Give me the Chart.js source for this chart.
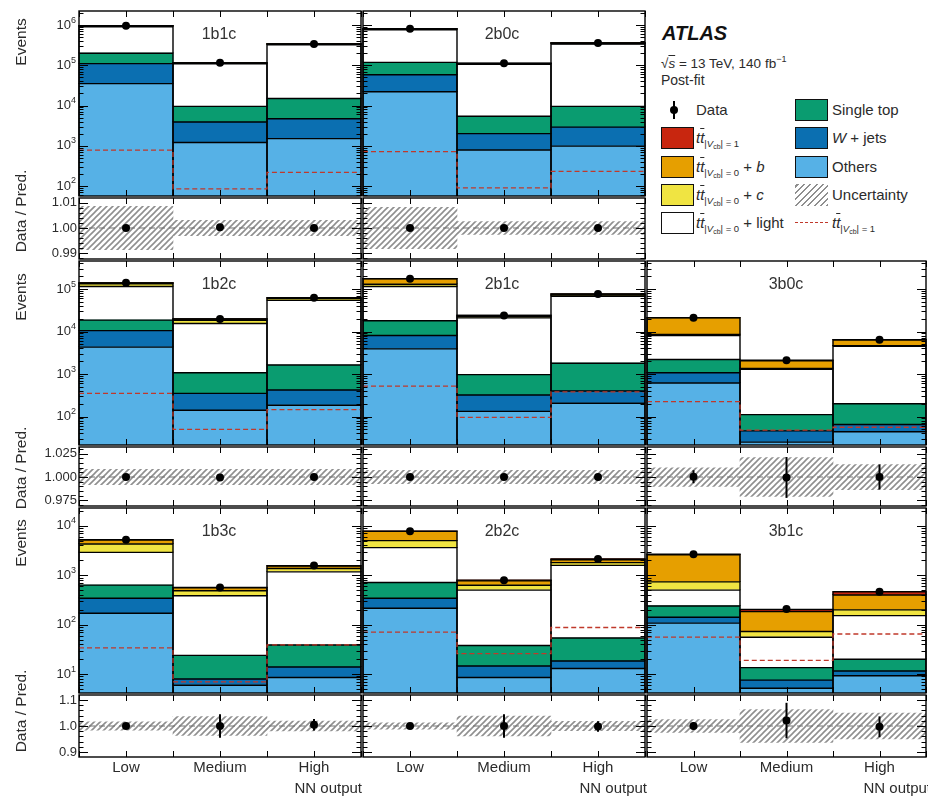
<!DOCTYPE html>
<html>
<head>
<meta charset="utf-8">
<script src="https://cdn.jsdelivr.net/npm/chart.js@4.4.1/dist/chart.umd.min.js"></script>
<style>
  body { margin: 0; width: 928px; height: 797px; overflow: hidden; position: relative; background: #fff;
         font-family: "Liberation Sans", Arial, sans-serif; color: #2b2b2b; }
  canvas { position: absolute; }
  .txt { position: absolute; white-space: nowrap; z-index: 2; line-height: 1; }
  .box { position: absolute; width: 33px; height: 22px; box-sizing: border-box; border: 1.5px solid #111; z-index: 2; }
  .ov { text-decoration: overline; }
  .sb { font-size: 9.5px; vertical-align: -4px; }
  .sb2 { font-size: 7px; vertical-align: -2px; }
</style>
</head>
<body>

<!-- legend -->
<div class="txt" style="left:662px;top:22px;font:italic bold 20px 'Liberation Sans',Arial,sans-serif;color:#111">ATLAS</div>
<div class="txt" style="left:661px;top:55px;font-size:13.5px">√<span class="ov"><i>s</i></span> = 13 TeV, 140 fb<span style="font-size:9px;vertical-align:6px">−1</span></div>
<div class="txt" style="left:661px;top:73px;font-size:14px">Post-fit</div>
<div id="legend"></div>

<script>
// -----------------------------
// Data
// -----------------------------
const regions = ['1b1c', '2b0c', '', '1b2c', '2b1c', '3b0c', '1b3c', '2b2c', '3b1c'];
const bins = ['Low', 'Medium', 'High'];

// post-fit yields per region (index 2 is the legend slot), bins Low / Medium / High
const others    = [[3.5e4, 1.2e3, 1.5e3], [2.2e4, 780, 980], null, [4.3e3, 140, 185], [3.9e3, 132, 206], [615, 25, 44], [171, 6, 8.6], [215, 8.6, 13], [108, 5.2, 9.3]];
const wjets     = [[7.5e4, 2.7e3, 3.2e3], [3.6e4, 1.22e3, 1.92e3], null, [6.2e3, 210, 235], [4.2e3, 188, 194], [455, 21, 21], [171, 2, 5.4], [127, 6, 5.5], [34, 2.4, 2.3]];
const singleTop = [[9.0e4, 5.6e3, 1.03e4], [6.0e4, 3.4e3, 6.6e3], null, [8.1e3, 720, 1.21e3], [9.9e3, 650, 1.4e3], [1.13e3, 65, 135], [290, 16, 25], [373, 23.4, 35.5], [98, 6, 8.4]];
const ttLight   = [[7.09e5, 1.0e5, 3.09e5], [6.41e5, 1.005e5, 3.3e5], null, [9.64e4, 1.44e4, 5.24e4], [9.7e4, 2.0e4, 6.6e4], [5.9e3, 1.19e3, 4.3e3], [2.27e3, 362, 1.13e3], [2.9e3, 462, 1.53e3], [260, 42.4, 133]];
const ttC       = [[3.5e4, 4e3, 1.2e4], [2.5e4, 3e3, 1e4], null, [1.8e4, 3e3, 6e3], [1.5e4, 1.5e3, 4e3], [400, 60, 150], [1.4e3, 100, 200], [1.4e3, 130, 220], [235, 17, 47]];
const ttB       = [[1.5e4, 1.5e3, 4e3], [2.5e4, 3e3, 1e4], null, [6.5e3, 1.2e3, 2e3], [4.5e4, 1.5e3, 4e3], [1.25e4, 700, 1.7e3], [900, 75, 160], [2.7e3, 140, 250], [1.87e3, 112, 200]];
const ttVcb1    = [[780, 85, 217], [710, 90, 230], null, [350, 50, 145], [520, 96, 380], [225, 48, 56], [34, 7, 39], [71, 26, 88], [56, 19, 65]];
const observed  = [[9.6e5, 1.15e5, 3.4e5], [8.1e5, 1.12e5, 3.6e5], null, [1.4e5, 1.97e4, 6.2e4], [1.75e5, 2.4e4, 7.6e4], [2.12e4, 2.1e3, 6.4e3], [5.24e3, 568, 1.58e3], [7.79e3, 796, 2.14e3], [2.66e3, 208, 464]];

// Data / Pred. panels
const ratio    = [[1.0, 1.0003, 1.0], [1.0, 1.0, 1.0], null, [1.0, 0.9995, 1.0], [1.0, 1.0, 1.0], [1.0003, 0.9995, 1.0], [1.0, 1.0, 1.005], [1.0, 1.0, 0.998], [1.0, 1.021, 0.997]];
const ratioErr = [[0.0002, 0.0006, 0.0003], [0.0003, 0.0007, 0.0004], null, [0.0008, 0.0018, 0.001], [0.0006, 0.0015, 0.0009], [0.007, 0.022, 0.0135], [0.01, 0.045, 0.022], [0.008, 0.045, 0.02], [0.015, 0.068, 0.04]];
const uncert   = [[0.0086, 0.003, 0.003], [0.0082, 0.0025, 0.0025], null, [0.0083, 0.0083, 0.0083], [0.0073, 0.0073, 0.0073], [0.010, 0.021, 0.0135], [0.016, 0.036, 0.019], [0.012, 0.038, 0.018], [0.025, 0.063, 0.05]];

// axes per row
const logRange = [[1.75, 6.35], [1.33, 5.66], [0.62, 4.36]];
const ratioRange = [[0.9877, 1.0119], [0.9688, 1.0323], [0.881, 1.119]];
const ratioTicks = [[0.99, 1.0, 1.01], [0.975, 1.0, 1.025], [0.9, 1.0, 1.1]];
const ratioTickLabels = [['0.99', '1.00', '1.01'], ['0.975', '1.000', '1.025'], ['0.9', '1.0', '1.1']];
const ratioMinor = [0.002, 0.005, 0.02];

// -----------------------------
// Layout / styles
// -----------------------------
const FONT = '"Liberation Sans", Arial, sans-serif';
const TXT = '#2b2b2b';
const cols = [[79, 362], [362, 646], [646, 927]];
const rows = [[10, 197, 260], [260, 446, 507], [507, 694, 757]];
const stackDefs = [
    [others, '#56b1e6'], [wjets, '#0b6fb1'], [singleTop, '#0a9c70'], [ttLight, '#ffffff'],
    [ttC, '#f0e442'], [ttB, '#e69f00'], [ttVcb1, '#c8260f']
];
const SIG_DASH = '#c0392b';

const binX = [0.5, 1.5, 2.5];
const xy = vals => vals.map((v, i) => ({ x: binX[i], y: v }));
const steps = vals => [0, 1, 2, 3].map(e => ({ x: e, y: vals[Math.min(e, 2)] }));

// -----------------------------
// Axes plugin (ROOT-style inward ticks, frame, labels, histogram outlines)
// -----------------------------
const atlasAxes = {
    id: 'atlasAxes',
    // outlines of the stacked histograms, drawn once all bars are painted
    beforeDatasetDraw(chart, args, o) {
        if (o.kind !== 'main' || args.index !== 1) return;
        const ctx = chart.ctx;
        ctx.save();
        ctx.strokeStyle = '#000';
        ctx.lineWidth = 1.4;
        ctx.lineJoin = 'miter';
        for (let d = 2; d < chart.data.datasets.length; d++) {
            chart.getDatasetMeta(d).data.forEach(el => {
                const { x, y, base, width } = el.getProps(['x', 'y', 'base', 'width'], true);
                ctx.beginPath();
                ctx.moveTo(x - width / 2, base);
                ctx.lineTo(x - width / 2, y);
                ctx.lineTo(x + width / 2, y);
                ctx.lineTo(x + width / 2, base);
                ctx.stroke();
            });
        }
        ctx.restore();
    },
    afterDatasetsDraw(chart, args, o) {
        const { ctx, chartArea: a, scales: { x, y } } = chart;
        ctx.save();
        ctx.strokeStyle = '#000';
        ctx.fillStyle = TXT;

        if (o.kind === 'ratio') {
            ctx.lineWidth = 2;
            ratio[o.reg].forEach((r, i) => {
                const e = ratioErr[o.reg][i];
                const px = x.getPixelForValue(binX[i]);
                ctx.beginPath();
                ctx.moveTo(px, y.getPixelForValue(r - e));
                ctx.lineTo(px, y.getPixelForValue(r + e));
                ctx.stroke();
            });
        }

        ctx.lineWidth = 1;
        ctx.beginPath();
        for (let k = 0; k <= 6; k++) {
            const px = Math.round(x.getPixelForValue(k / 2)) + 0.5;
            ctx.moveTo(px, a.bottom); ctx.lineTo(px, a.bottom - 6);
            ctx.moveTo(px, a.top); ctx.lineTo(px, a.top + 6);
        }
        ctx.stroke();

        const ticks = [];
        if (o.kind === 'main') {
            const e0 = Math.floor(Math.log10(y.min)), e1 = Math.ceil(Math.log10(y.max));
            for (let e = e0; e <= e1; e++) {
                for (let k = 1; k <= 9; k++) {
                    const v = k * Math.pow(10, e);
                    if (v >= y.min && v <= y.max) ticks.push({ v, major: k === 1, e });
                }
            }
        } else {
            const step = ratioMinor[o.row];
            for (let n = Math.ceil(y.min / step - 1e-9); n * step <= y.max + 1e-12; n++) {
                const v = n * step;
                const idx = ratioTicks[o.row].findIndex(m => Math.abs(m - v) < step / 10);
                ticks.push({ v, major: idx >= 0, idx });
            }
        }
        ctx.beginPath();
        ticks.forEach(t => {
            const py = Math.round(y.getPixelForValue(t.v)) + 0.5;
            const len = t.major ? 9 : 4.5;
            ctx.moveTo(a.left, py); ctx.lineTo(a.left + len, py);
            ctx.moveTo(a.right, py); ctx.lineTo(a.right - len, py);
        });
        ctx.stroke();

        ctx.lineWidth = 1.4;
        ctx.strokeRect(a.left, a.top, a.right - a.left, a.bottom - a.top);

        if (o.labels) {
            ctx.textAlign = 'right';
            ctx.textBaseline = 'middle';
            ticks.filter(t => t.major).forEach(t => {
                const py = y.getPixelForValue(t.v);
                if (o.kind === 'main') {
                    const exp = String(t.e);
                    ctx.font = `9px ${FONT}`;
                    const ew = ctx.measureText(exp).width;
                    ctx.fillText(exp, a.left - 3, py - 5);
                    ctx.font = `13px ${FONT}`;
                    ctx.fillText('10', a.left - 3 - ew, py);
                } else {
                    ctx.font = `13px ${FONT}`;
                    ctx.fillText(ratioTickLabels[o.row][t.idx], a.left - 2, py);
                }
            });
        }
        if (o.xlabels) {
            ctx.textAlign = 'center';
            ctx.textBaseline = 'middle';
            ctx.font = `15px ${FONT}`;
            bins.forEach((b, i) => ctx.fillText(b, x.getPixelForValue(binX[i]), a.bottom + 11));
        }
        ctx.restore();
    }
};

function makeCanvas(left, top, w, h) {
    const c = document.createElement('canvas');
    c.width = w; c.height = h;
    c.style.left = left + 'px'; c.style.top = top + 'px';
    c.style.width = w + 'px'; c.style.height = h + 'px';
    document.body.appendChild(c);
    return c;
}

function hatch(ctx) {
    const t = document.createElement('canvas');
    t.width = 6; t.height = 6;
    const g = t.getContext('2d');
    g.strokeStyle = '#8f8f8f';
    g.lineWidth = 1.6;
    g.beginPath();
    g.moveTo(0, 6); g.lineTo(6, 0);
    g.moveTo(-1, 1); g.lineTo(1, -1);
    g.moveTo(5, 7); g.lineTo(7, 5);
    g.stroke();
    return ctx.createPattern(t, 'repeat');
}

const xScale = { type: 'linear', min: 0, max: 3, display: false, offset: false, stacked: true,
                 grid: { offset: false }, ticks: { stepSize: 1 } };

function baseOptions(pad, yScale, axesOpts) {
    return {
        responsive: false, animation: false, devicePixelRatio: 1,
        layout: { padding: pad },
        plugins: { legend: { display: false }, tooltip: { enabled: false }, atlasAxes: axesOpts },
        scales: { x: xScale, y: yScale }
    };
}

// -----------------------------
// Charts
// -----------------------------
regions.forEach((name, reg) => {
    if (!name) return;
    const row = Math.floor(reg / 3), col = reg % 3;
    const [cl, cr] = cols[col];
    const [mt, mb, rb] = rows[row];
    const padL = col === 0 ? 80 : 3;

    // main panel
    const pm = { left: padL, right: 3, top: 3, bottom: 3 };
    const cm = makeCanvas(cl - padL, mt - 3, cr - cl + padL + 3, mb - mt + 6);
    const bars = stackDefs.map(([arr, colr]) => ({
        type: 'bar', data: xy(arr[reg]), backgroundColor: colr, borderWidth: 0,
        barPercentage: 1, categoryPercentage: 1, stack: 'bkg', order: 2
    }));
    new Chart(cm, {
        type: 'bar',
        data: {
            datasets: [
                { type: 'line', data: xy(observed[reg]), showLine: false, pointRadius: 4, pointBorderWidth: 0,
                  pointBackgroundColor: '#000', stack: 'obs', order: 0 },
                { type: 'line', data: steps(ttVcb1[reg]), stepped: 'before', borderColor: SIG_DASH, borderWidth: 1.3,
                  borderDash: [5, 3], pointRadius: 0, fill: false, stack: 'sig', order: 1 },
                ...bars
            ]
        },
        options: baseOptions(pm, { type: 'logarithmic', display: false, stacked: true,
            min: Math.pow(10, logRange[row][0]), max: Math.pow(10, logRange[row][1]) },
            { kind: 'main', row, reg, labels: col === 0, xlabels: false }),
        plugins: [atlasAxes]
    });

    // ratio panel
    const padB = row === 2 ? 44 : 3;
    const pr = { left: padL, right: 3, top: 3, bottom: padB };
    const cv = makeCanvas(cl - padL, mb - 3, cr - cl + padL + 3, rb - mb + 3 + padB);
    new Chart(cv, {
        type: 'bar',
        data: {
            datasets: [
                { type: 'line', data: xy(ratio[reg]), showLine: false, pointRadius: 4, pointBorderWidth: 0,
                  pointBackgroundColor: '#000', order: 0 },
                { type: 'line', data: [{ x: 0, y: 1 }, { x: 3, y: 1 }], borderColor: '#707070', borderWidth: 1,
                  borderDash: [6, 4], pointRadius: 0, fill: false, order: 1 },
                { type: 'bar', data: uncert[reg].map((u, i) => ({ x: binX[i], y: [1 - u, 1 + u] })),
                  backgroundColor: hatch(cv.getContext('2d')), borderWidth: 0,
                  barPercentage: 1, categoryPercentage: 1, order: 2 }
            ]
        },
        options: baseOptions(pr, { type: 'linear', display: false, stacked: false,
            min: ratioRange[row][0], max: ratioRange[row][1] },
            { kind: 'ratio', row, reg, labels: col === 0, xlabels: row === 2 }),
        plugins: [atlasAxes]
    });

    // region label
    const lab = document.createElement('div');
    lab.className = 'txt';
    lab.textContent = name;
    lab.style.cssText += `left:${cl + 140}px;top:${mt + 24}px;font-size:16px;color:#333;transform:translate(-50%,-50%);`;
    document.body.appendChild(lab);
});

// axis titles
function vtext(s, cx, cy) {
    const d = document.createElement('div');
    d.className = 'txt';
    d.textContent = s;
    d.style.cssText += `left:${cx}px;top:${cy}px;font-size:15.5px;transform:translate(-50%,-50%) rotate(-90deg);`;
    document.body.appendChild(d);
}
[[42, 211], [297, 468], [543, 711]].forEach(([ev, dp]) => {
    vtext('Events', 21, ev);
    vtext('Data / Pred.', 21, dp);
});
[362, 647, 931].forEach(r => {
    const d = document.createElement('div');
    d.className = 'txt';
    d.textContent = 'NN output';
    d.style.cssText += `left:${r}px;top:787px;font-size:15px;transform:translate(-100%,-50%);`;
    document.body.appendChild(d);
});

// -----------------------------
// Legend
// -----------------------------
const tt = (n, suffix) => `<i>t</i><span class="ov"><i>t</i></span><span class="sb">|<i>V</i><span class="sb2">cb</span>| = ${n}</span>${suffix}`;
const rowsY = [110, 138, 167, 195, 223];
const legLeft = [
    ['data', 'Data'],
    ['#c8260f', tt(1, '')],
    ['#e69f00', tt(0, ' + <i>b</i>')],
    ['#f0e442', tt(0, ' + <i>c</i>')],
    ['#ffffff', tt(0, ' + light')]
];
const legRight = [
    ['#0a9c70', 'Single top'],
    ['#0b6fb1', '<i>W</i> + jets'],
    ['#56b1e6', 'Others'],
    ['hatch', 'Uncertainty'],
    ['dash', tt(1, '')]
];
let html = '';
function entry(kind, label, bx, tx, cy) {
    if (kind === 'data') {
        html += `<div class="box" style="border:0;left:${bx + 12}px;top:${cy - 9}px;width:2px;height:18px;background:#000"></div>`;
        html += `<div class="box" style="border:0;left:${bx + 9}px;top:${cy - 4}px;width:8px;height:8px;border-radius:50%;background:#000"></div>`;
    } else if (kind === 'hatch') {
        html += `<div class="box" style="border:0;left:${bx}px;top:${cy - 11}px;background:repeating-linear-gradient(-45deg,#8f8f8f 0 1.5px,transparent 1.5px 4.5px)"></div>`;
    } else if (kind === 'dash') {
        html += `<div class="box" style="border:0;border-top:1.5px dashed ${SIG_DASH};left:${bx}px;top:${cy - 1}px;height:2px"></div>`;
    } else {
        html += `<div class="box" style="left:${bx}px;top:${cy - 11}px;background:${kind}"></div>`;
    }
    html += `<div class="txt" style="left:${tx}px;top:${cy - 8}px;font-size:15px">${label}</div>`;
}
legLeft.forEach(([k, l], i) => entry(k, l, 661, 696, rowsY[i]));
legRight.forEach(([k, l], i) => entry(k, l, 795, 832, rowsY[i]));
document.getElementById('legend').innerHTML = html;
</script>
</body>
</html>
